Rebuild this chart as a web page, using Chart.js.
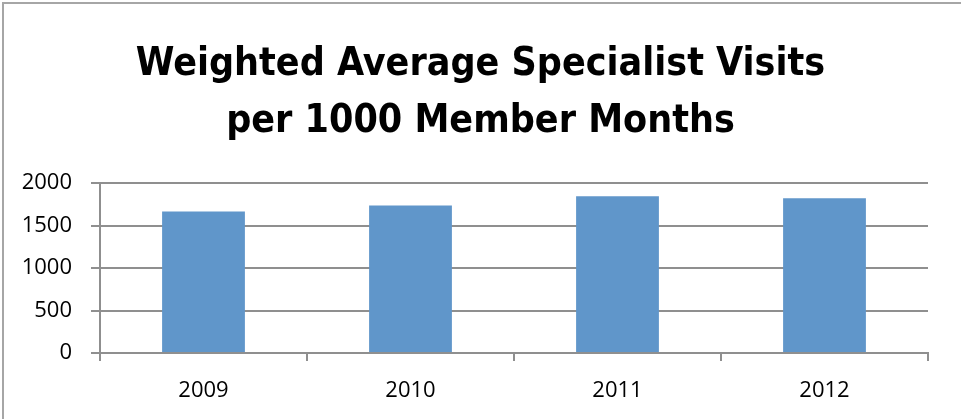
<!DOCTYPE html>
<html>
<head>
<meta charset="utf-8">
<script src="https://cdn.jsdelivr.net/npm/chart.js@4/dist/chart.umd.min.js"></script>
<style>
  html, body { margin: 0; padding: 0; background: #fff; }
  #wrap { position: relative; width: 961px; height: 419px; }
</style>
</head>
<body>
<div id="wrap"><canvas id="c" width="961" height="419"></canvas></div>
<script>
const titleLines = ["Weighted Average Specialist Visits", "per 1000 Member Months"];
const categories = ["2009", "2010", "2011", "2012"];
const visits = [1665, 1735, 1844, 1821];
const yMin = 0;
const yMax = 2000;
const yStep = 500;

const gridColor = '#8f8f8f';
const tickFont = { family: "'Open Sans', 'Liberation Sans', sans-serif", size: 22 };

const frame = {
  id: 'frame',
  beforeDraw(chart) {
    const ctx = chart.ctx;
    ctx.save();
    ctx.fillStyle = '#ffffff';
    ctx.fillRect(0, 0, chart.width, chart.height);
    ctx.strokeStyle = '#a6a6a6';
    ctx.lineWidth = 2;
    ctx.beginPath();
    ctx.moveTo(3, chart.height);
    ctx.lineTo(3, 3);
    ctx.lineTo(chart.width, 3);
    ctx.stroke();
    ctx.restore();
  }
};

new Chart(document.getElementById('c'), {
  type: 'bar',
  data: {
    labels: categories,
    datasets: [{
      data: visits,
      backgroundColor: '#6096ca',
      borderWidth: 0,
      barPercentage: 0.8,
      categoryPercentage: 0.5
    }]
  },
  options: {
    responsive: false,
    animation: false,
    devicePixelRatio: 1,
    layout: { padding: 0 },
    plugins: {
      legend: { display: false },
      tooltip: { enabled: false },
      title: {
        display: true,
        text: titleLines,
        color: '#000',
        font: { family: "'Liberation Sans Narrow', 'DejaVu Sans Condensed', sans-serif", size: 39, weight: 'bold', lineHeight: 1.45 },
        padding: { top: 37, bottom: 33 }
      }
    },
    scales: {
      x: {
        afterFit(scale) { scale.height = 66; },
        grid: {
          offset: true,
          drawOnChartArea: false,
          drawTicks: true,
          tickLength: 8,
          color: gridColor,
          lineWidth: 2
        },
        border: { display: true, color: gridColor, width: 2 },
        ticks: { color: '#000', font: tickFont, padding: 17 }
      },
      y: {
        min: yMin,
        max: yMax,
        afterFit(scale) { scale.width = 100; },
        grid: {
          color: gridColor,
          lineWidth: 2,
          tickLength: 9,
          drawTicks: true
        },
        border: { display: true, color: gridColor, width: 2 },
        ticks: {
          stepSize: yStep,
          color: '#000',
          font: tickFont,
          padding: 19,
          callback: (v) => String(v)
        }
      },
      spacer: {
        type: 'linear',
        position: 'right',
        min: yMin,
        max: yMax,
        afterFit(scale) { scale.width = 33; },
        grid: { display: false, drawOnChartArea: false },
        border: { display: false },
        ticks: { display: false }
      }
    }
  },
  plugins: [frame]
});
</script>
</body>
</html>
